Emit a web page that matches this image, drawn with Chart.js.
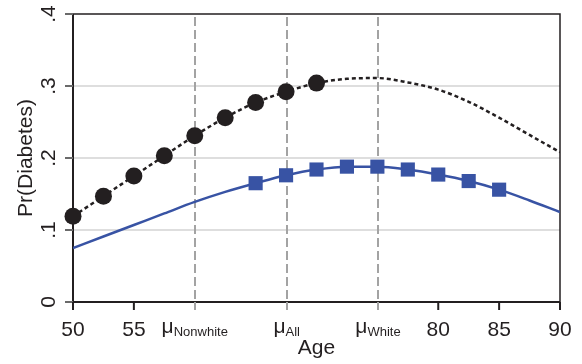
<!DOCTYPE html>
<html><head><meta charset="utf-8">
<script src="https://cdn.jsdelivr.net/npm/chart.js@4"></script>
<style>html,body{margin:0;padding:0;background:#fff}#wrap{width:582px;height:364px}</style>
</head><body><div id="wrap"><canvas id="c" width="582" height="364"></canvas></div>
<script>
const ages = [50,52.5,55,57.5,60,62.5,65,67.5,70,72.5,75,77.5,80,82.5,85,87.5,90];
const nonwhiteCurve = [0.119,0.147,0.175,0.203,0.231,0.256,0.277,0.292,0.304,0.310,0.311,0.305,0.295,0.278,0.256,0.232,0.208];
const whiteCurve = [0.075,0.091,0.107,0.123,0.139,0.153,0.165,0.176,0.184,0.188,0.188,0.184,0.177,0.168,0.156,0.141,0.125];
const nonwhiteDotAges = [50,52.5,55,57.5,60,62.5,65,67.5,70];
const nonwhiteDots = [0.119,0.147,0.175,0.203,0.231,0.256,0.277,0.292,0.304];
const whiteSquareAges = [65,67.5,70,72.5,75,77.5,80,82.5,85];
const whiteSquares = [0.165,0.176,0.184,0.188,0.188,0.184,0.177,0.168,0.156];
const xTickValues = [50,55,80,85,90];
const xTickLabels = ['50','55','80','85','90'];
const meanValues = [60.0,67.55,75.05];
const meanLabels = ['Nonwhite','All','White'];
const yTickValues = [0,0.1,0.2,0.3,0.4];
const yTickLabels = ['0','.1','.2','.3','.4'];
const xTitle = 'Age';
const yTitle = 'Pr(Diabetes)';

const BLACK = '#231f20', BLUE = '#3853a4';
const FONT = '"Liberation Sans", Arial, sans-serif';

const pts = (xs, ys) => xs.map((v,i)=>({x:v,y:ys[i]}));

const deco = {
  id:'deco',
  beforeDatasetsDraw(chart){
    const {ctx, chartArea:a, scales:{x}} = chart;
    ctx.save();
    ctx.strokeStyle='#a3a3a3'; ctx.lineWidth=2; ctx.setLineDash([9,4]);
    meanValues.forEach(v=>{const px=Math.round(x.getPixelForValue(v)); ctx.beginPath(); ctx.moveTo(px,a.top+3); ctx.lineTo(px,a.bottom); ctx.stroke();});
    ctx.setLineDash([]);
    ctx.strokeStyle=BLACK; ctx.lineWidth=1.5;
    ctx.beginPath(); ctx.moveTo(a.left,a.top); ctx.lineTo(a.right,a.top); ctx.lineTo(a.right,a.bottom); ctx.stroke();
    ctx.lineWidth=2;
    ctx.beginPath(); ctx.moveTo(a.left,a.top); ctx.lineTo(a.left,a.bottom); ctx.lineTo(a.right,a.bottom); ctx.stroke();
    ctx.restore();
  },
  afterDraw(chart){
    const {ctx, chartArea:a, scales:{x,y}} = chart;
    ctx.save();
    ctx.lineWidth=2; ctx.strokeStyle='#6a6a6a';
    yTickValues.forEach(v=>{const py=y.getPixelForValue(v); ctx.beginPath(); ctx.moveTo(a.left-8,py); ctx.lineTo(a.left,py); ctx.stroke();});
    ctx.strokeStyle=BLACK;
    xTickValues.forEach(v=>{const px=x.getPixelForValue(v); ctx.beginPath(); ctx.moveTo(px,a.bottom); ctx.lineTo(px,a.bottom+8); ctx.stroke();});
    ctx.strokeStyle='#a3a3a3';
    meanValues.forEach(v=>{const px=Math.round(x.getPixelForValue(v)); ctx.beginPath(); ctx.moveTo(px,a.bottom); ctx.lineTo(px,a.bottom+8); ctx.stroke();});
    ctx.fillStyle=BLACK;
    ctx.textBaseline='alphabetic';
    ctx.font='21px '+FONT; ctx.textAlign='center';
    xTickValues.forEach((v,i)=>ctx.fillText(xTickLabels[i], x.getPixelForValue(v), 336));
    meanValues.forEach((v,i)=>{
      const px=x.getPixelForValue(v);
      ctx.font='21px '+FONT; const w1=ctx.measureText('μ').width;
      ctx.font='13px '+FONT; const w2=ctx.measureText(meanLabels[i]).width;
      const x0=px-(w1+w2)/2;
      ctx.textAlign='left';
      ctx.font='21px '+FONT; ctx.fillText('μ', x0, 333);
      ctx.font='13px '+FONT; ctx.fillText(meanLabels[i], x0+w1, 336);
    });
    ctx.font='21px '+FONT; ctx.textAlign='center';
    ctx.fillText(xTitle, (a.left+a.right)/2, 354);
    yTickValues.forEach((v,i)=>{
      const py=y.getPixelForValue(v);
      ctx.save(); ctx.translate(55,py); ctx.rotate(-Math.PI/2);
      ctx.textAlign='center'; ctx.fillText(yTickLabels[i],0,0); ctx.restore();
    });
    ctx.save(); ctx.translate(32,(a.top+a.bottom)/2); ctx.rotate(-Math.PI/2);
    ctx.textAlign='center'; ctx.fillText(yTitle,0,0); ctx.restore();
    ctx.restore();
  }
};

new Chart(document.getElementById('c'), {
  type:'scatter',
  data:{datasets:[
    {data:pts(nonwhiteDotAges,nonwhiteDots), pointStyle:'circle', pointRadius:8.5, backgroundColor:BLACK, borderColor:BLACK, borderWidth:0, showLine:false, clip:false},
    {data:pts(whiteSquareAges,whiteSquares), pointStyle:'rect', pointRadius:10, backgroundColor:BLUE, borderColor:BLUE, borderWidth:0, showLine:false, clip:false},
    {data:pts(ages,nonwhiteCurve), showLine:true, pointRadius:0, borderColor:BLACK, borderWidth:2.5, borderDash:[4,3], cubicInterpolationMode:'monotone', fill:false},
    {data:pts(ages,whiteCurve), showLine:true, pointRadius:0, borderColor:BLUE, borderWidth:2.5, cubicInterpolationMode:'monotone', fill:false}
  ]},
  options:{
    responsive:false, animation:false, devicePixelRatio:1,
    layout:{padding:{top:14,right:22,left:0,bottom:0}},
    plugins:{legend:{display:false}, tooltip:{enabled:false}},
    scales:{
      x:{type:'linear', min:50, max:90, ticks:{display:false}, grid:{display:false, drawTicks:false}, border:{display:false},
         afterFit:s=>{s.height=62;}},
      y:{type:'linear', min:0, max:0.4, ticks:{display:false, stepSize:0.1},
         grid:{drawTicks:false, lineWidth:2, color:c=>{const v=c.tick&&c.tick.value; return (v>0.05&&v<0.35)?'#dedede':'rgba(0,0,0,0)';}},
         border:{display:false}, afterFit:s=>{s.width=73;}}
    }
  },
  plugins:[deco]
});
</script></body></html>
